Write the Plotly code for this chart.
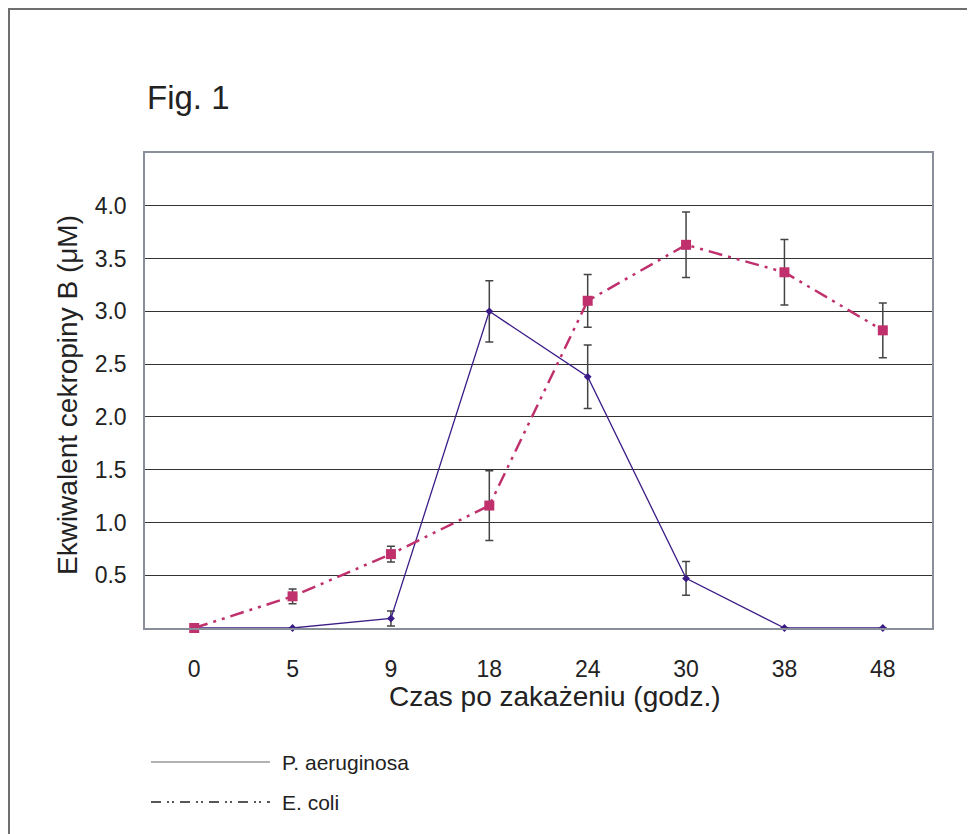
import plotly.graph_objects as go

categories = ["0", "5", "9", "18", "24", "30", "38", "48"]
pa_values = [0.0, 0.0, 0.09, 3.0, 2.38, 0.47, 0.0, 0.0]
pa_errors = [0.0, 0.0, 0.07, 0.29, 0.30, 0.16, 0.0, 0.0]
ec_values = [0.0, 0.30, 0.70, 1.16, 3.10, 3.63, 3.37, 2.82]
ec_errors = [0.0, 0.07, 0.075, 0.33, 0.25, 0.31, 0.31, 0.26]
y_ticks = [0.5, 1.0, 1.5, 2.0, 2.5, 3.0, 3.5, 4.0]
y_ticklabels = ["0.5", "1.0", "1.5", "2.0", "2.5", "3.0", "3.5", "4.0"]
series_names = ["P. aeruginosa", "E. coli"]

FONT = "Liberation Sans, Arial, sans-serif"
PA_COLOR = "#3b1c86"
EC_COLOR = "#c0306c"
ERR_COLOR = "#444444"
TXT = "#222222"

fig = go.Figure()

fig.add_trace(go.Scatter(
    x=categories, y=pa_values, name=series_names[0], mode="lines+markers",
    line=dict(color=PA_COLOR, width=1.3),
    marker=dict(symbol="diamond", size=6, color=PA_COLOR),
    error_y=dict(type="data", array=pa_errors, color=ERR_COLOR, thickness=1.5, width=4),
    showlegend=False, cliponaxis=False,
))
fig.add_trace(go.Scatter(
    x=categories, y=ec_values, name=series_names[1], mode="lines+markers",
    line=dict(color=EC_COLOR, width=2.5, dash="14px,6px,3px,6px,3px,6px"),
    marker=dict(symbol="square", size=10, color=EC_COLOR),
    error_y=dict(type="data", array=ec_errors, color=ERR_COLOR, thickness=1.5, width=4),
    showlegend=False, cliponaxis=False,
))

OFF = 8  # page body margin
W, H = 975, 834
L, R, T, B = 137, 51, 145, 214
pw, ph = W - L - R, H - T - B

def px(x):
    return (x - OFF - L) / pw

def py(y):
    return (H - B - (y - OFF)) / ph

shapes = [
    # outer frame
    dict(type="rect", xref="paper", yref="paper", x0=px(OFF + 1), y0=py(1500), x1=px(1500), y1=py(OFF + 1),
         line=dict(color="#6e6e6e", width=2), layer="below"),
    # legend samples
    dict(type="line", xref="paper", yref="paper", x0=px(151), x1=px(270), y0=py(762), y1=py(762),
         line=dict(color="#666666", width=1.2)),
    dict(type="line", xref="paper", yref="paper", x0=px(151), x1=px(270), y0=py(802), y1=py(802),
         line=dict(color="#222222", width=1.5, dash="10px,6px,2px,3px,2px,6px")),
]

annotations = [
    dict(text="Fig. 1", xref="paper", yref="paper", x=px(145), y=py(97), xanchor="left", yanchor="middle",
         showarrow=False, font=dict(family=FONT, size=33, color=TXT)),
    dict(text="Czas po zakażeniu (godz.)", xref="paper", yref="paper", x=px(555), y=py(696),
         xanchor="center", yanchor="middle", showarrow=False, font=dict(family=FONT, size=28, color=TXT)),
    dict(text="Ekwiwalent cekropiny B (μM)", xref="paper", yref="paper", x=px(67), y=py(395),
         xanchor="center", yanchor="middle", textangle=-90, showarrow=False,
         font=dict(family=FONT, size=28, color=TXT)),
    dict(text=series_names[0], xref="paper", yref="paper", x=px(280), y=py(762), xanchor="left",
         yanchor="middle", showarrow=False, font=dict(family=FONT, size=21, color=TXT)),
    dict(text=series_names[1], xref="paper", yref="paper", x=px(280), y=py(802), xanchor="left",
         yanchor="middle", showarrow=False, font=dict(family=FONT, size=21, color=TXT)),
]

fig.update_layout(
    width=W, height=H,
    margin=dict(l=L, r=R, t=T, b=B),
    paper_bgcolor="white", plot_bgcolor="white",
    font=dict(family=FONT, color=TXT),
    shapes=shapes, annotations=annotations,
    showlegend=False,
)
fig.update_xaxes(
    type="category", range=[-0.5, 7.5], showgrid=False, showline=True, mirror=True,
    linecolor="#8a9099", linewidth=1.5, ticks="", ticklabelstandoff=20,
    tickfont=dict(family=FONT, size=23, color=TXT), zeroline=False,
)
fig.update_yaxes(
    range=[0, 4.5], tickvals=y_ticks, ticktext=y_ticklabels, showgrid=True,
    gridcolor="#333333", gridwidth=1.2, showline=True, mirror=True,
    linecolor="#8a9099", linewidth=1.5, ticks="", ticklabelstandoff=12,
    tickfont=dict(family=FONT, size=23, color=TXT), zeroline=False,
)

fig.write_html("out.html")
